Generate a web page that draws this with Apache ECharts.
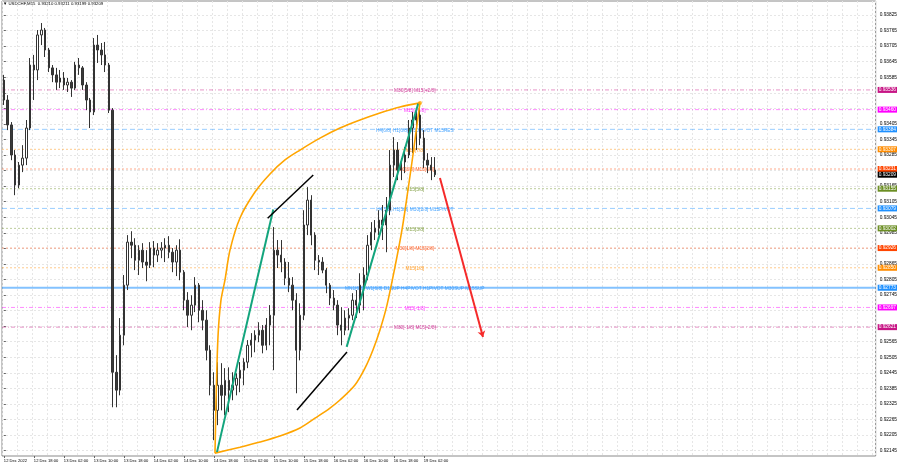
<!DOCTYPE html>
<html><head><meta charset="utf-8">
<script src="https://cdn.jsdelivr.net/npm/echarts/dist/echarts.min.js"></script>
<style>html,body{margin:0;padding:0;background:#fff}#c{width:900px;height:468px}</style>
</head><body><div id="c"></div>
<script>
// ---- data (USDCHF, hourly candles) ----
const titleText = 'USDCHF,M15';
const titleOHLC = [0.93210, 0.93211, 0.93199, 0.93209];
const xTickLabels = ['12 Dec 2022','12 Dec 18:00','13 Dec 02:00','13 Dec 10:00','13 Dec 18:00','14 Dec 02:00','14 Dec 10:00','14 Dec 18:00','15 Dec 02:00','15 Dec 10:00','15 Dec 18:00','16 Dec 02:00','16 Dec 10:00','16 Dec 18:00','19 Dec 02:00'];
const yTickLabels = [0.93825,0.93765,0.93705,0.93645,0.93585,0.93405,0.93345,0.93285,0.93165,0.93105,0.93045,0.92985,0.92865,0.92805,0.92745,0.92565,0.92505,0.92445,0.92385,0.92325,0.92265,0.92205,0.92145];

const opens = [0.93574,0.93497,0.93401,0.93285,0.93169,0.93246,0.93273,0.93389,0.93632,0.93613,
0.93748,0.93767,0.93690,0.93621,0.93594,0.93566,0.93582,0.93555,0.93566,0.93543,
0.93632,0.93621,0.93555,0.93497,0.93451,0.93709,0.93690,0.93671,0.93632,0.93458,
0.92447,0.92378,0.92590,0.92783,0.92949,0.92937,0.92879,0.92918,0.92872,0.92860,
0.92926,0.92899,0.92918,0.92926,0.92937,0.92910,0.92872,0.92918,0.92833,0.92725,
0.92667,0.92706,0.92783,0.92686,0.92648,0.92532,0.92397,0.92300,0.92397,0.92358,
0.92416,0.92378,0.92397,0.92424,0.92455,0.92486,0.92551,0.92571,0.92590,0.92609,
0.92551,0.92629,0.92667,0.92918,0.92899,0.92872,0.92810,0.92783,0.92725,0.92532,
0.92667,0.93015,0.93111,0.92976,0.92879,0.92872,0.92841,0.92783,0.92733,0.92706,
0.92629,0.92609,0.92656,0.92667,0.92725,0.92706,0.92783,0.92822,0.92937,0.92987,
0.93003,0.93034,0.93015,0.93072,0.93246,0.93304,0.93227,0.93258,0.93285,0.93389,
0.93420,0.93439,0.93350,0.93265,0.93246,0.93227];
const highs = [0.93594,0.93516,0.93412,0.93304,0.93258,0.93323,0.93420,0.93659,0.93671,0.93767,
0.93794,0.93775,0.93698,0.93632,0.93621,0.93613,0.93605,0.93582,0.93574,0.93644,
0.93659,0.93628,0.93566,0.93505,0.93736,0.93748,0.93717,0.93721,0.93640,0.93466,
0.92513,0.92656,0.92822,0.92976,0.92991,0.92964,0.92937,0.92945,0.92918,0.92949,
0.92953,0.92945,0.92949,0.92964,0.92972,0.92926,0.92937,0.92960,0.92841,0.92756,
0.92744,0.92814,0.92791,0.92725,0.92686,0.92551,0.92447,0.92486,0.92482,0.92463,
0.92466,0.92447,0.92443,0.92486,0.92501,0.92571,0.92598,0.92609,0.92640,0.92629,
0.92656,0.92706,0.93007,0.92957,0.92957,0.92887,0.92872,0.92814,0.92752,0.92713,
0.93072,0.93161,0.93130,0.92987,0.92899,0.92891,0.92849,0.92791,0.92764,0.92725,
0.92698,0.92686,0.92694,0.92752,0.92764,0.92829,0.92852,0.92976,0.93026,0.93034,
0.93072,0.93092,0.93123,0.93304,0.93354,0.93335,0.93273,0.93316,0.93420,0.93451,
0.93458,0.93485,0.93381,0.93292,0.93277,0.93277];
const lows = [0.93478,0.93381,0.93265,0.93130,0.93157,0.93219,0.93246,0.93381,0.93497,0.93574,
0.93709,0.93663,0.93605,0.93566,0.93536,0.93543,0.93536,0.93528,0.93509,0.93536,
0.93594,0.93536,0.93458,0.93389,0.93439,0.93640,0.93632,0.93605,0.93447,0.92312,
0.92312,0.92358,0.92551,0.92764,0.92887,0.92841,0.92822,0.92849,0.92798,0.92849,
0.92852,0.92872,0.92887,0.92872,0.92887,0.92833,0.92818,0.92802,0.92686,0.92621,
0.92609,0.92679,0.92640,0.92609,0.92493,0.92358,0.92185,0.92243,0.92300,0.92281,
0.92293,0.92339,0.92358,0.92370,0.92397,0.92463,0.92505,0.92524,0.92563,0.92520,
0.92532,0.92551,0.92455,0.92849,0.92833,0.92783,0.92756,0.92686,0.92366,0.92493,
0.92648,0.92976,0.92937,0.92841,0.92822,0.92829,0.92752,0.92706,0.92686,0.92590,
0.92551,0.92590,0.92609,0.92648,0.92656,0.92675,0.92686,0.92802,0.92918,0.92957,
0.92976,0.92957,0.92910,0.93053,0.93200,0.93188,0.93188,0.93215,0.93273,0.93292,
0.93304,0.93323,0.93235,0.93215,0.93188,0.93200];
const closes = [0.93497,0.93401,0.93285,0.93169,0.93246,0.93273,0.93389,0.93632,0.93613,0.93748,
0.93767,0.93690,0.93621,0.93594,0.93566,0.93582,0.93555,0.93566,0.93543,0.93632,
0.93621,0.93555,0.93497,0.93451,0.93709,0.93690,0.93671,0.93632,0.93458,0.92447,
0.92378,0.92590,0.92783,0.92949,0.92937,0.92879,0.92918,0.92872,0.92860,0.92926,
0.92899,0.92918,0.92926,0.92937,0.92910,0.92872,0.92918,0.92833,0.92725,0.92667,
0.92706,0.92783,0.92686,0.92648,0.92532,0.92397,0.92300,0.92397,0.92358,0.92416,
0.92378,0.92397,0.92424,0.92455,0.92486,0.92551,0.92571,0.92590,0.92609,0.92551,
0.92629,0.92667,0.92918,0.92899,0.92872,0.92810,0.92783,0.92725,0.92532,0.92667,
0.93015,0.93111,0.92976,0.92879,0.92872,0.92841,0.92783,0.92733,0.92706,0.92629,
0.92609,0.92656,0.92667,0.92725,0.92706,0.92783,0.92822,0.92937,0.92987,0.93003,
0.93034,0.93015,0.93072,0.93246,0.93304,0.93227,0.93258,0.93285,0.93389,0.93420,
0.93439,0.93350,0.93265,0.93246,0.93227,0.93209];

// Murrey-math style levels
const levelPrices = [0.93536,0.93460,0.93384,0.93307,0.93231,0.93155,0.93079,0.93002,0.92926,0.92850,0.92773,0.92697,0.92621];
const levelTexts = ['M30[5/8] M15[+2/8]','M15[+1/8]','H4[6/8] H1[6/8] M30PIVOT M15RES','M15[7/8]','M30[3/8] M15[6/8]','M15[5/8]','H4[5/8] H1[5/8] M30[2/8] M15PIVOT','M15[3/8]','M30[1/8] M15[2/8]','M15[1/8]','MN1[6/8] W1[6/8] D1SUP H4PIVOT H1PIVOT M30SUP M15SUP','M15[-1/8]','M30[-1/8] M15[-2/8]'];

// drawn objects, in [hour index, price]
const greenLines = [[[56.83,0.92139],[71.85,0.93075]],[[91.42,0.92545],[110.51,0.93484]]];
const blackLines = [[[70.35,0.93041],[82.51,0.93208]],[[78.17,0.92301],[91.5,0.92525]]];
const redArrow = [[116.3,0.93196],[127.77,0.92583]];
const arcUpper = [[56.30,0.92135],[56.43,0.92224],[56.57,0.92328],[57.10,0.92583],[57.90,0.92725],[58.97,0.92803],[60.30,0.92918],[62.97,0.93042],[66.97,0.93142],[70.97,0.93212],[74.97,0.93266],[78.97,0.93304],[84.30,0.93350],[89.63,0.93389],[94.97,0.93420],[100.30,0.93447],[105.63,0.93470],[110.97,0.93486]];
const arcLower = [[56.30,0.92135],[62.97,0.92158],[68.30,0.92178],[73.63,0.92201],[78.97,0.92232],[82.97,0.92270],[86.97,0.92309],[89.63,0.92340],[93.63,0.92398],[96.30,0.92463],[98.43,0.92533],[100.30,0.92610],[102.17,0.92706],[104.30,0.92853],[106.17,0.92996],[107.77,0.93150],[109.10,0.93285],[110.17,0.93401],[110.97,0.93486]];
const arcTop = [[110.97,0.93486]];

// ---- styling ----
const N = 233, BAND = 3.75;
const FONT = 'Liberation Sans, Arial, DejaVu Sans, sans-serif';
const FS = 4.8;
const levelColors = ['#C71585','#FF00FF','#1E90FF','#FF8C00','#FF4500','#6B8E23','#1E90FF','#6B8E23','#FF4500','#FF8C00','#1E90FF','#FF00FF','#C71585'];
const levelDash = [[4,2,1,2],[4,2,1,2],[5,3],[2,2],[2,2],[2,2],[5,3],[2,2],[2,2],[2,2],'solid',[4,2,1,2],[4,2,1,2]];
const levelWidth = [1,1,1,1,1,1,1,1,1,1,2,1,1];
const TEXT_X = 109.6;

const gridTicks = [];
for (let k = 0; k <= 28; k++) gridTicks.push(+(0.92145 + k * 0.0006).toFixed(5));

const cats = Array.from({length: N}, (_, i) => String(i));
const showX = (i) => i % 8 === 0 && i / 8 < xTickLabels.length;
const candleData = opens.map((o, i) => [o, closes[i], lows[i], highs[i]]);

function levelSeries(price, color, dash, width, lineOpacity) {
  return {
    type: 'line', xAxisIndex: 1, z: 1, silent: true, symbol: 'none',
    data: [[-0.5, price], [N - 0.5, price]],
    lineStyle: {color: color, type: dash, width: width, opacity: lineOpacity},
    endLabel: {show: true, distance: 2, formatter: price.toFixed(5), color: '#fff',
               backgroundColor: color, padding: [1, 1, 0, 1], fontSize: FS, fontFamily: FONT}
  };
}

const series = [];
levelPrices.forEach((p, i) => series.push(levelSeries(p, levelColors[i], levelDash[i], levelWidth[i], levelWidth[i] > 1 ? 0.55 : 0.45)));
series.push(levelSeries(closes[closes.length - 1], '#000', 'solid', 1, 0));
series.push({
  type: 'scatter', xAxisIndex: 1, z: 1, symbolSize: 0, silent: true,
  data: levelTexts.map((t, i) => ({value: [TEXT_X, levelPrices[i]], name: t, label: {color: levelColors[i]}})),
  label: {show: true, position: 'inside', formatter: p => p.name, fontSize: FS, fontFamily: FONT, offset: [0, 1]}
});
series.push({
  type: 'candlestick', xAxisIndex: 0, z: 2, barWidth: 1.8,
  data: candleData,
  itemStyle: {color: '#ffffff', color0: '#3a3a3a', borderColor: '#333333', borderColor0: '#333333', borderWidth: 1}
});
series.push({type: 'line', xAxisIndex: 1, z: 3, data: arcUpper, smooth: 0.3, symbol: 'none', lineStyle: {color: '#FFA500', width: 1.6}});
series.push({type: 'line', xAxisIndex: 1, z: 3, data: arcLower, smooth: 0.3, symbol: 'none', lineStyle: {color: '#FFA500', width: 1.6}});
series.push({type: 'scatter', xAxisIndex: 1, z: 4, data: arcTop, symbol: 'circle', symbolSize: 4, itemStyle: {color: '#FFA500'}});
series.push({type: 'lines', coordinateSystem: 'cartesian2d', xAxisIndex: 1, z: 4,
  data: greenLines.map(c => ({coords: c})), lineStyle: {color: '#13A57D', width: 2, opacity: 1}});
series.push({type: 'lines', coordinateSystem: 'cartesian2d', xAxisIndex: 1, z: 4,
  data: blackLines.map(c => ({coords: c})), lineStyle: {color: '#000', width: 1.5, opacity: 1}});
series.push({type: 'lines', coordinateSystem: 'cartesian2d', xAxisIndex: 1, z: 4,
  data: [{coords: redArrow}], symbol: ['none', 'arrow'], symbolSize: 6, lineStyle: {color: '#F52A2A', width: 2, opacity: 1}});

const chart = echarts.init(document.getElementById('c'), null, {renderer: 'canvas'});
chart.setOption({
  animation: false,
  backgroundColor: '#fff',
  title: {
    text: '\u25BC ' + titleText + '  ' + titleOHLC.map(v => v.toFixed(5)).join(' '),
    left: 3, top: 2, padding: 0,
    textStyle: {fontSize: 4.3, fontWeight: 'normal', color: '#000', fontFamily: FONT}
  },
  grid: {left: 2, top: 1, width: N * BAND, height: 455, show: true, borderColor: '#8a8a8a', borderWidth: 1, backgroundColor: '#fff'},
  xAxis: [{
    type: 'category', data: cats, boundaryGap: true,
    axisLine: {show: false},
    axisTick: {show: true, interval: showX, alignWithLabel: true, length: 2, lineStyle: {color: '#666'}},
    axisLabel: {interval: showX, formatter: (v, i) => xTickLabels[i / 8] || '', align: 'left',
                fontSize: 4.1, color: '#000', fontFamily: FONT, margin: 3},
    splitLine: {show: true, interval: 3, lineStyle: {color: '#e6e6e6', type: [2, 2], width: 1}}
  }, {
    type: 'value', min: -0.5, max: N - 0.5, show: false
  }],
  yAxis: {
    type: 'value', position: 'right', min: 0.92124, max: 0.93879, scale: true,
    axisLine: {show: false},
    axisTick: {show: true, customValues: gridTicks, length: 2, lineStyle: {color: '#666'}},
    axisLabel: {customValues: yTickLabels, formatter: v => v.toFixed(5), fontSize: FS, color: '#000', fontFamily: FONT, margin: 4},
    splitLine: {show: true, lineStyle: {color: '#e6e6e6', type: [2, 2], width: 1}}
  },
  series: series
});
</script></body></html>
